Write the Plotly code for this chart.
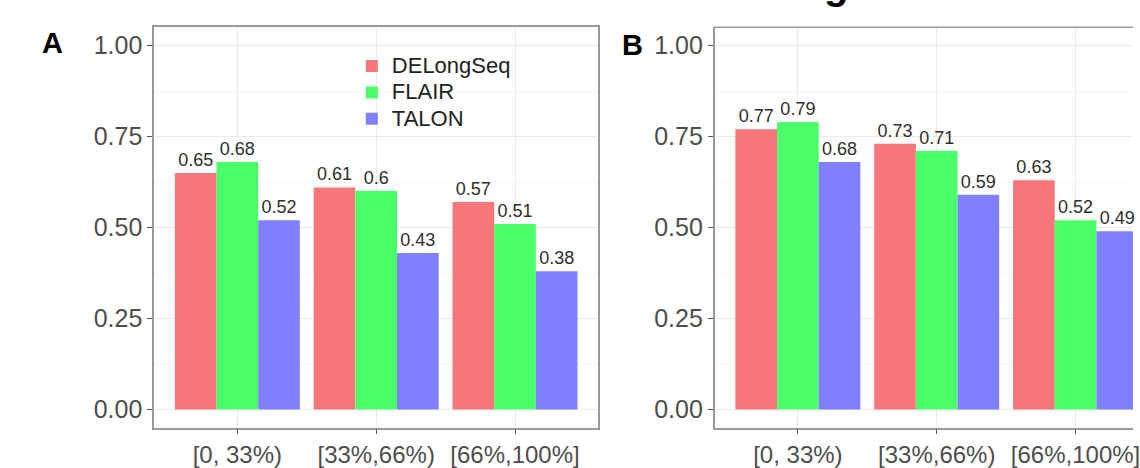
import plotly.graph_objects as go

categories = ["[0, 33%)", "[33%,66%)", "[66%,100%]"]
methods = ["DELongSeq", "FLAIR", "TALON"]
colors = ["#F8767A", "#4BFF6B", "#7F7FFF"]

panel_a_delongseq = [0.65, 0.61, 0.57]
panel_a_flair = [0.68, 0.6, 0.51]
panel_a_talon = [0.52, 0.43, 0.38]

panel_b_delongseq = [0.77, 0.73, 0.63]
panel_b_flair = [0.79, 0.71, 0.52]
panel_b_talon = [0.68, 0.59, 0.49]

y_tickvals = [0, 0.25, 0.5, 0.75, 1.0]
y_ticktext = ["0.00", "0.25", "0.50", "0.75", "1.00"]

W, H = 1140, 468
FONT = "Liberation Sans, Arial, sans-serif"

fig = go.Figure()

panels = [
    ("x", "y", [panel_a_delongseq, panel_a_flair, panel_a_talon], True),
    ("x2", "y2", [panel_b_delongseq, panel_b_flair, panel_b_talon], False),
]
for xa, ya, series, show in panels:
    for name, vals, col in zip(methods, series, colors):
        fig.add_trace(go.Bar(
            x=categories, y=vals,
            name=f'<span style="font-size:22px">{name}</span>',
            marker_color=col, marker_line_width=0,
            text=[f"{v:g}" for v in vals], textposition="outside",
            textfont=dict(family=FONT, size=18, color="#2E2E2E"),
            constraintext="none", cliponaxis=False,
            xaxis=xa, yaxis=ya, showlegend=show, hoverinfo="skip",
        ))

unit = 447 / 3.2
ydom = [(H - 438) / H, (H - 28) / H]
xaxis_common = dict(
    type="category", showgrid=True, gridcolor="#EBEBEB", gridwidth=1.2,
    ticks="outside", ticklen=5, tickcolor="#555555", tickwidth=1.2,
    tickfont=dict(family=FONT, size=24, color="#4D4D4D"),
    showline=True, linecolor="#999999", linewidth=1.5, zeroline=False,
)
yaxis_common = dict(
    range=[-0.05, 1.05], tickvals=y_tickvals, ticktext=y_ticktext,
    showgrid=True, gridcolor="#EBEBEB", gridwidth=1.2,
    minor=dict(dtick=0.125, tick0=0, showgrid=True, gridcolor="#F6F6F6", gridwidth=1, ticklen=0),
    ticks="outside", ticklen=5, tickcolor="#555555", tickwidth=1.2,
    tickfont=dict(family=FONT, size=25, color="#4D4D4D"),
    showline=True, linecolor="#999999", linewidth=1.5, zeroline=False,
)

fig.update_layout(
    width=W, height=H,
    margin=dict(l=0, r=0, t=0, b=0),
    paper_bgcolor="white", plot_bgcolor="white",
    barmode="group", bargap=0.1, bargroupgap=0,
    font=dict(family=FONT),
    hovermode=False,
    xaxis=dict(domain=[155 / W, 602 / W], range=[-0.6, 2.6], mirror=True, anchor="y", **xaxis_common),
    yaxis=dict(domain=ydom, anchor="x", mirror=True, **yaxis_common),
    xaxis2=dict(domain=[719 / W, 1.0], range=[-0.6, -0.6 + (W - 719) / unit], anchor="y2", **xaxis_common),
    yaxis2=dict(domain=ydom, anchor="x2", **yaxis_common),
    legend=dict(
        x=354 / W, y=1 - 49 / H, xanchor="left", yanchor="top",
        bgcolor="rgba(0,0,0,0)", borderwidth=0,
        font=dict(family=FONT, size=18, color="#222222"),
        tracegroupgap=0, itemwidth=30,
    ),
    shapes=[
        dict(type="line", xref="paper", yref="paper", x0=719 / W, x1=1.0,
             y0=ydom[1], y1=ydom[1], line=dict(color="#999999", width=1.5)),
    ],
    annotations=[
        dict(text="<b>A</b>", x=53 / W, y=1 - 44 / H, xref="paper", yref="paper",
             showarrow=False, font=dict(family=FONT, size=29, color="black"),
             xanchor="center", yanchor="middle"),
        dict(text="<b>B</b>", x=636 / W, y=1 - 46 / H, xref="paper", yref="paper",
             showarrow=False, font=dict(family=FONT, size=29, color="black"),
             xanchor="center", yanchor="middle"),
        dict(text="<b>g</b>", x=841 / W, y=1 - 9 / H, xref="paper", yref="paper",
             showarrow=False, font=dict(family=FONT, size=40, color="black"),
             xanchor="center", yanchor="bottom"),
    ],
)

fig.write_html("out.html", config={"displayModeBar": False},
               post_script="document.body.style.margin='0';")
